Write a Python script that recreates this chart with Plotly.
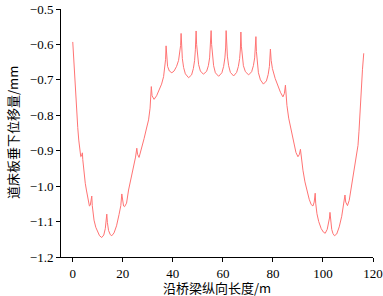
import plotly.graph_objects as go

# Longitudinal position along bridge (m) and vertical displacement of track slab (mm)
pos_m = [
    0.0, 0.4, 0.8, 1.2, 1.6, 2.0, 2.4, 2.8, 3.2, 3.5, 3.85,
    4.0, 4.5, 5.0, 5.45, 6.0, 6.65, 7.0, 7.3, 7.6,
    7.8, 8.5, 9.2, 9.85, 10.7, 11.6, 12.4, 13.0, 13.35, 13.6,
    13.85, 14.3, 15.0, 15.6, 16.5, 17.5, 18.5, 19.2, 19.6,
    19.9, 20.3, 20.7, 21.5, 22.3, 23.0, 23.6, 24.4, 25.1, 25.6,
    25.9, 26.5, 27.6, 28.5, 29.5, 30.3, 30.9, 31.4,
    31.7, 32.5, 33.5, 34.5, 35.5, 36.3, 36.8, 37.1, 37.3,
    37.5, 37.9, 38.6, 39.6, 40.5, 41.5, 42.3, 42.8, 43.1, 43.3,
    43.5, 43.8, 44.3, 45.0, 46.3, 47.5, 48.2, 48.7, 49.0, 49.3,
    49.5, 49.8, 50.3, 51.0, 52.2, 53.5, 54.2, 54.7, 55.0, 55.3,
    55.5, 55.8, 56.3, 57.0, 58.3, 59.6, 60.3, 60.8, 61.1, 61.3,
    61.5, 61.8, 62.3, 63.0, 64.3, 65.5, 66.2, 66.7, 67.0, 67.2,
    67.4, 67.7, 68.2, 69.0, 70.3, 71.5, 72.2, 72.7, 73.0, 73.2,
    73.4, 73.7, 74.2, 75.0, 76.2, 77.4, 78.1, 78.6, 78.85, 79.0,
    79.3, 79.8, 80.9, 82.0, 83.0, 84.0, 84.6, 85.0,
    85.2, 85.6, 86.3, 87.0, 87.8, 88.5, 89.2, 90.0, 90.6, 91.0,
    91.3, 92.0, 92.8, 93.6, 94.5, 95.3, 96.0, 96.5, 96.9,
    97.1, 97.6, 98.3, 99.3, 100.2, 100.9, 101.7, 102.3, 102.6, 102.8,
    103.05, 103.5, 104.0, 104.6, 105.5, 106.5, 107.5, 108.3, 108.8,
    109.1, 109.8, 110.5, 111.2, 112.2, 113.2, 114.0, 114.4, 114.7, 115.2, 115.8, 116.3,
]
disp_mm = [
    -0.593, -0.648, -0.700, -0.748, -0.794, -0.835, -0.870, -0.898, -0.917, -0.915, -0.906,
    -0.925, -0.964, -0.992, -1.011, -1.035, -1.056, -1.054, -1.045, -1.028,
    -1.055, -1.096, -1.116, -1.128, -1.140, -1.145, -1.138, -1.120, -1.103, -1.079,
    -1.103, -1.125, -1.137, -1.140, -1.132, -1.112, -1.080, -1.055, -1.022,
    -1.046, -1.056, -1.058, -1.048, -1.011, -0.988, -0.964, -0.940, -0.918, -0.893,
    -0.910, -0.919, -0.893, -0.866, -0.836, -0.813, -0.780, -0.719,
    -0.745, -0.755, -0.745, -0.730, -0.712, -0.691, -0.668, -0.642, -0.604,
    -0.640, -0.662, -0.675, -0.680, -0.675, -0.662, -0.645, -0.625, -0.603, -0.569,
    -0.610, -0.640, -0.665, -0.683, -0.694, -0.686, -0.668, -0.645, -0.615, -0.562,
    -0.600, -0.632, -0.657, -0.675, -0.684, -0.676, -0.660, -0.638, -0.610, -0.561,
    -0.600, -0.632, -0.660, -0.680, -0.690, -0.680, -0.662, -0.638, -0.610, -0.561,
    -0.600, -0.633, -0.660, -0.679, -0.689, -0.679, -0.662, -0.640, -0.613, -0.565,
    -0.605, -0.635, -0.660, -0.677, -0.686, -0.677, -0.660, -0.638, -0.612, -0.578,
    -0.620, -0.652, -0.680, -0.700, -0.712, -0.703, -0.685, -0.662, -0.640, -0.613,
    -0.645, -0.668, -0.696, -0.718, -0.735, -0.748, -0.738, -0.715,
    -0.742, -0.772, -0.808, -0.832, -0.862, -0.889, -0.905, -0.917, -0.910, -0.896,
    -0.920, -0.955, -0.988, -1.015, -1.037, -1.052, -1.056, -1.045, -1.020,
    -1.048, -1.078, -1.100, -1.120, -1.130, -1.133, -1.122, -1.103, -1.090, -1.074,
    -1.100, -1.122, -1.134, -1.140, -1.135, -1.115, -1.085, -1.055, -1.025,
    -1.045, -1.055, -1.040, -1.011, -0.964, -0.920, -0.885, -0.845, -0.802, -0.730, -0.670, -0.625,
]

x_ticks = [0, 20, 40, 60, 80, 100, 120]
y_ticks = [-1.2, -1.1, -1.0, -0.9, -0.8, -0.7, -0.6, -0.5]
x_title = "沿桥梁纵向长度/m"
y_title = "道床板垂下位移量/mm"

fig = go.Figure()
fig.add_trace(go.Scatter(
    x=pos_m, y=disp_mm, mode="lines",
    line=dict(color="rgb(255,115,115)", width=1),
    showlegend=False, hoverinfo="skip",
))

tick_font = dict(family="Liberation Serif, Times New Roman, serif", size=13, color="black")
title_font = dict(family="Noto Sans CJK SC, sans-serif", size=13, color="black")

fig.update_layout(
    width=383, height=296,
    margin=dict(l=61, r=10, t=9, b=39, autoexpand=False),
    paper_bgcolor="white", plot_bgcolor="white",
    xaxis=dict(
        range=[-4.7, 120], tickvals=x_ticks, ticks="outside", ticklen=4,
        tickcolor="black", showline=True, linecolor="black", linewidth=1,
        showgrid=False, zeroline=False, tickfont=tick_font, automargin=False,
        ticklabeloverflow="allow",
    ),
    yaxis=dict(
        range=[-1.2, -0.5], tickvals=y_ticks, tickformat=".1f", ticks="outside", ticklen=4,
        tickcolor="black", showline=True, linecolor="black", linewidth=1,
        showgrid=False, zeroline=False, tickfont=tick_font, automargin=False,
        ticklabeloverflow="allow",
    ),
    annotations=[
        dict(text=x_title, xref="paper", yref="paper", x=0.5, y=0,
             xanchor="center", yanchor="middle", yshift=-30, showarrow=False,
             borderpad=0, font=title_font),
        dict(text=y_title, xref="paper", yref="paper", x=0, y=0.5,
             xanchor="center", yanchor="middle", xshift=-49, textangle=-90,
             showarrow=False, borderpad=0, font=title_font),
    ],
)

fig.write_html(
    "out.html",
    config={"displayModeBar": False},
    post_script="document.body.style.margin='0';document.body.style.overflow='hidden';",
)
